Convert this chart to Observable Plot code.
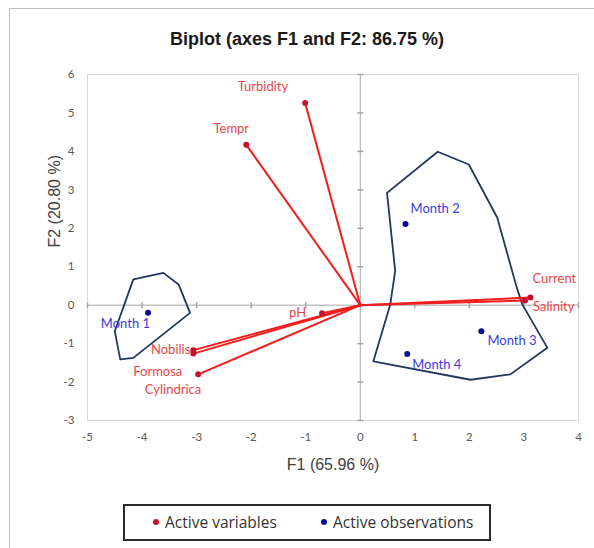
<!DOCTYPE html>
<html>
<head>
<meta charset="utf-8">
<script src="https://cdn.jsdelivr.net/npm/d3@7"></script>
<script src="https://cdn.jsdelivr.net/npm/@observablehq/plot@0.6"></script>
<style>
  html, body { margin: 0; padding: 0; background: #fff; }
  #wrap { position: relative; width: 594px; height: 548px; overflow: hidden; background: #fff; }
  #border { position: absolute; left: 9px; top: 8px; width: 640px; height: 600px; border-left: 1.5px solid #bfbfbf; border-top: 1.5px solid #bfbfbf; }
  #title { position: absolute; left: 0; width: 614px; top: 29px; text-align: center; font-family: "Liberation Sans", Arial, sans-serif; font-weight: bold; font-size: 18px; color: #1a1a1a; }
  #chart { position: absolute; left: 0; top: 0; }
  #legend { position: absolute; left: 123px; top: 504px; width: 364px; height: 33px; border: 2px solid #2b2b2b; box-sizing: content-box; font-family: "Open Sans", sans-serif; font-size: 15.5px; color: #333; }
  .li { position: absolute; top: 5px; white-space: nowrap; }
  .dot { display: inline-block; width: 6px; height: 6px; border-radius: 50%; margin-right: 6px; vertical-align: 3px; }
</style>
</head>
<body>
<div id="wrap">
  <div id="border"></div>
  <div id="chart"></div>
  <div id="title"></div>
  <div id="legend"></div>
</div>
<script>
// ---- Data ----
const titleText = "Biplot (axes F1 and F2: 86.75 %)";
const xLabel = "F1 (65.96 %)";
const yLabel = "F2 (20.80 %)";
const xTicks = [-5, -4, -3, -2, -1, 0, 1, 2, 3, 4];
const yTicks = [-3, -2, -1, 0, 1, 2, 3, 4, 5, 6];

const varNames = ["Turbidity", "Tempr", "Current", "Salinity", "pH", "Nobilis", "Formosa", "Cylindrica"];
const varF1 = [-1.01, -2.09, 3.12, 3.02, -0.70, -3.06, -3.06, -2.97];
const varF2 = [5.26, 4.17, 0.20, 0.12, -0.21, -1.17, -1.26, -1.80];

const obsNames = ["Month 1", "Month 2", "Month 3", "Month 4"];
const obsF1 = [-3.89, 0.83, 2.22, 0.86];
const obsF2 = [-0.20, 2.11, -0.68, -1.27];

// convex hull outlines (as drawn)
const hullRightF1 = [1.42, 1.99, 2.51, 2.87, 2.97, 3.43, 2.75, 2.02, 0.24, 0.55, 0.64, 0.49];
const hullRightF2 = [3.99, 3.66, 2.28, 0.45, 0.02, -1.11, -1.80, -1.94, -1.46, 0.02, 0.89, 2.92];
const hullLeftF1 = [-4.16, -3.61, -3.33, -3.12, -4.16, -4.40, -4.50];
const hullLeftF2 = [0.67, 0.84, 0.54, -0.20, -1.37, -1.41, -0.68];

const legendItems = ["Active variables", "Active observations"];

// ---- label placement (style) ----
const varLabelAnchor = ["end", "middle", "start", "start", "end", "end", "end", "end"];
const varLabelDx = [-17, -15, 2, 8, -16, -3, -11, 3];
const varLabelDy = [-16, -16, -19, 6, 0, 0, 18, 15];
const obsLabelAnchor = ["end", "start", "start", "start"];
const obsLabelDx = [2, 5, 6, 5];
const obsLabelDy = [11, -15, 10, 11];

// ---- colors ----
const cVecLine = "#f21d1d";
const cVecDot = "#c8102e";
const cVecText = "#e8474a";
const cObsDot = "#0a0aa0";
const cObsText = "#3b3be0";
const cHull = "#22365e";

const vars = varNames.map((n, i) => ({name: n, x: varF1[i], y: varF2[i], anchor: varLabelAnchor[i], dx: varLabelDx[i], dy: varLabelDy[i]}));
const obs = obsNames.map((n, i) => ({name: n, x: obsF1[i], y: obsF2[i], anchor: obsLabelAnchor[i], dx: obsLabelDx[i], dy: obsLabelDy[i]}));
const hullR = hullRightF1.map((x, i) => ({x, y: hullRightF2[i]}));
const hullL = hullLeftF1.map((x, i) => ({x, y: hullLeftF2[i]}));

const hTick = {draw(ctx, size) { const r = 3; ctx.moveTo(-r, 0); ctx.lineTo(r, 0); }};
const vTick = {draw(ctx, size) { const r = 3; ctx.moveTo(0, -r); ctx.lineTo(0, r); }};

const textMarks = [];
for (const v of vars) {
  textMarks.push(Plot.text([v], {x: "x", y: "y", text: "name", textAnchor: v.anchor, dx: v.dx, dy: v.dy, fill: cVecText, fontSize: 13, fontFamily: "Lato, sans-serif"}));
}
for (const o of obs) {
  textMarks.push(Plot.text([o], {x: "x", y: "y", text: "name", textAnchor: o.anchor, dx: o.dx, dy: o.dy, fill: cObsText, fontSize: 13, fontFamily: "Lato, sans-serif"}));
}

const chart = Plot.plot({
  width: 594,
  height: 480,
  marginLeft: 87,
  marginRight: 16,
  marginTop: 74,
  marginBottom: 60,
  style: {fontFamily: "Lato, sans-serif", fontSize: "11.5px", background: "transparent", color: "#595959"},
  x: {domain: [-5, 4], ticks: xTicks, tickFormat: d => String(d)},
  y: {domain: [-3, 6], ticks: yTicks, tickFormat: d => String(d)},
  marks: [
    Plot.frame({stroke: "#d9d9d9"}),
    Plot.axisX(xTicks, {tickSize: 0, tickPadding: 12, tickFormat: d => String(d), label: null, fill: "#595959"}),
    Plot.axisY(yTicks, {tickSize: 0, tickPadding: 13, tickFormat: d => String(d), label: null, fill: "#595959"}),
    Plot.ruleX([0], {stroke: "#a6a6a6"}),
    Plot.ruleY([0], {stroke: "#a6a6a6"}),
    Plot.dot(yTicks, {x: () => 0, y: d => d, symbol: hTick, stroke: "#a6a6a6", r: 3}),
    Plot.dot(xTicks, {x: d => d, y: () => 0, symbol: vTick, stroke: "#a6a6a6", r: 3}),
    Plot.line(hullR, {x: "x", y: "y", curve: "linear-closed", stroke: cHull, strokeWidth: 1.8}),
    Plot.line(hullL, {x: "x", y: "y", curve: "linear-closed", stroke: cHull, strokeWidth: 1.8}),
    Plot.link(vars, {x1: () => 0, y1: () => 0, x2: "x", y2: "y", stroke: cVecLine, strokeWidth: 2}),
    Plot.dot(vars, {x: "x", y: "y", r: 3, fill: cVecDot}),
    Plot.dot(obs, {x: "x", y: "y", r: 3, fill: cObsDot}),
    ...textMarks,
    Plot.text([xLabel], {frameAnchor: "bottom", text: d => d, dy: 49, fontSize: 16, fill: "#404040", fontFamily: "Liberation Sans, Arial, sans-serif"}),
    Plot.text([yLabel], {frameAnchor: "left", text: d => d, dx: -33, rotate: -90, fontSize: 16, fill: "#404040", fontFamily: "Liberation Sans, Arial, sans-serif"})
  ]
});
document.getElementById("chart").appendChild(chart);
document.getElementById("title").textContent = titleText;

const leg = document.getElementById("legend");
const legColors = [cVecDot, cObsDot];
const legLeft = [28, 196];
legendItems.forEach((t, i) => {
  const s = document.createElement("span");
  s.className = "li";
  s.style.left = legLeft[i] + "px";
  s.innerHTML = `<span class="dot" style="background:${legColors[i]}"></span>`;
  s.appendChild(document.createTextNode(t));
  leg.appendChild(s);
});
</script>
</body>
</html>
